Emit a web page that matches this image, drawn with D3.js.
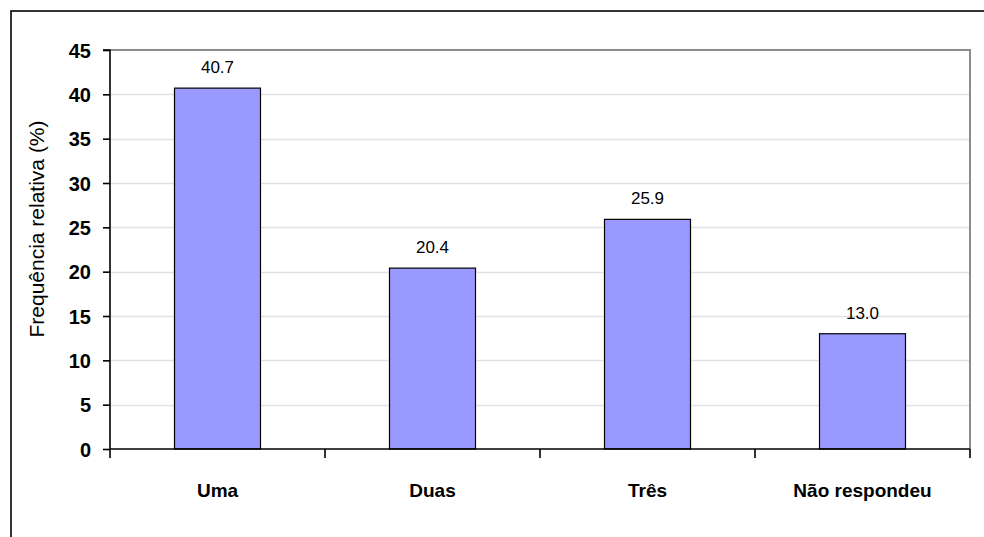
<!DOCTYPE html>
<html>
<head>
<meta charset="utf-8">
<script src="https://cdn.jsdelivr.net/npm/d3@7"></script>
<style>
  html, body { margin: 0; padding: 0; background: #fff; }
  svg { display: block; }
  text { font-family: "Liberation Sans", Arial, sans-serif; fill: #000; }
</style>
</head>
<body>
<svg id="chart" width="984" height="537"></svg>
<script>
// Number of answers and their relative frequency (%)
const categories = ["Uma", "Duas", "Três", "Não respondeu"];
const values = [40.7, 20.4, 25.9, 13.0];
const yTicks = [0, 5, 10, 15, 20, 25, 30, 35, 40, 45];
const yTitle = "Frequência relativa (%)";

const svg = d3.select("#chart");
const W = 984, H = 537;
const plot = { left: 110, right: 970, top: 50, bottom: 449 };

// Outer chart frame (extends past the right and bottom edges)
svg.append("rect")
  .attr("x", 11).attr("y", 11)
  .attr("width", W + 20).attr("height", H + 20)
  .attr("fill", "#fff").attr("stroke", "#000").attr("stroke-width", 1.6);

const x = d3.scaleBand().domain(categories).range([plot.left, plot.right]).paddingInner(0).paddingOuter(0);
const y = d3.scaleLinear().domain([0, 45]).range([plot.bottom, plot.top]);
const barW = x.bandwidth() * 0.4;

// Horizontal gridlines
svg.append("g").selectAll("line")
  .data(yTicks.filter(d => d > 0 && d < 45))
  .join("line")
  .attr("x1", plot.left).attr("x2", plot.right)
  .attr("y1", d => Math.round(y(d)) + 0.5).attr("y2", d => Math.round(y(d)) + 0.5)
  .attr("stroke", "#e2e2e2").attr("stroke-width", 1.3);

// Plot area border (top and right)
svg.append("path")
  .attr("d", `M${plot.left},${plot.top}H${plot.right}V${plot.bottom}`)
  .attr("fill", "none").attr("stroke", "#8c8c8c").attr("stroke-width", 2);

// Bars
svg.append("g").selectAll("rect")
  .data(values)
  .join("rect")
  .attr("x", (d, i) => x(categories[i]) + (x.bandwidth() - barW) / 2)
  .attr("y", d => y(d))
  .attr("width", barW)
  .attr("height", d => y(0) - y(d))
  .attr("fill", "#9999ff")
  .attr("stroke", "#000").attr("stroke-width", 1.2);

// Value labels above bars
svg.append("g").selectAll("text")
  .data(values)
  .join("text")
  .attr("x", (d, i) => x(categories[i]) + x.bandwidth() / 2)
  .attr("y", d => y(d) - 15)
  .attr("text-anchor", "middle")
  .style("font-size", "17px")
  .text(d => d.toFixed(1));

// Y axis
const yAxis = d3.axisLeft(y).tickValues(yTicks).tickSize(7).tickPadding(12);
const gy = svg.append("g").attr("transform", `translate(${plot.left},0)`).call(yAxis);
gy.select(".domain").attr("stroke", "#000").attr("stroke-width", 1.6).attr("d", `M-7,${plot.top}H0V${plot.bottom}`);
gy.selectAll(".tick line").attr("stroke", "#000").attr("stroke-width", 1.6);
gy.selectAll(".tick text")
  .style("font-size", "20px").style("font-weight", "bold")
  .style("font-family", "'Liberation Sans', Arial, sans-serif")
  .attr("fill", "#000").attr("dy", "0.36em");

// X axis with ticks at category boundaries
svg.append("line")
  .attr("x1", plot.left).attr("x2", plot.right)
  .attr("y1", plot.bottom).attr("y2", plot.bottom)
  .attr("stroke", "#000").attr("stroke-width", 1.6);
const bounds = categories.map(c => x(c)).concat([plot.right]);
svg.append("g").selectAll("line")
  .data(bounds)
  .join("line")
  .attr("x1", d => d).attr("x2", d => d)
  .attr("y1", plot.bottom).attr("y2", plot.bottom + 9)
  .attr("stroke", "#000").attr("stroke-width", 1.6);

// Category labels
svg.append("g").selectAll("text")
  .data(categories)
  .join("text")
  .attr("x", d => x(d) + x.bandwidth() / 2)
  .attr("y", 497)
  .attr("text-anchor", "middle")
  .style("font-size", "19px").style("font-weight", "bold")
  .text(d => d);

// Y axis title
svg.append("text")
  .attr("transform", "translate(44,229) rotate(-90)")
  .attr("text-anchor", "middle")
  .style("font-size", "21px")
  .text(yTitle);
</script>
</body>
</html>
